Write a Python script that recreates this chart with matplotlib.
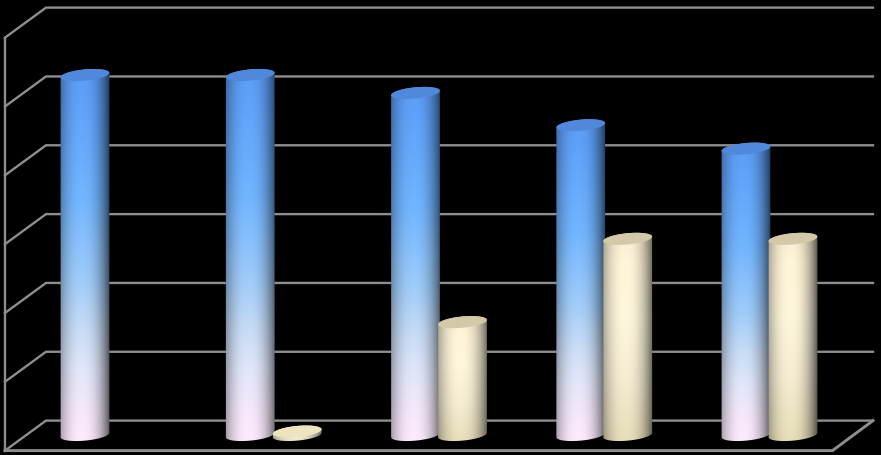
import numpy as np
import matplotlib
matplotlib.use("Agg")
import matplotlib.pyplot as plt
from matplotlib.patches import Polygon
from matplotlib.colors import to_rgb

categories = ["1", "2", "3", "4", "5"]
series_blue = [5.23, 5.23, 4.97, 4.50, 4.16]
series_cream = [0.0, 0.05, 1.64, 2.85, 2.85]
grid_values = [0, 1, 2, 3, 4, 5, 6]

W, H = 881, 456
BASE_PX = 436.0      # pixel row of the value-0 bar base centre
UNIT_PX = 68.83      # pixels per value unit
CAT0_PX = 108.5      # pixel column of first group centre
CAT_PX = 165.25      # pixels per category
BAR_W = 49.0
BAR_OFF = 23.5
FLOOR_BACK = 421.6   # pixel row of back floor line
DX, DY = 41.0, 30.0  # depth shift of the floor/wall
ELL_B = 5.6
ELL_ROT = np.deg2rad(5.5)

fig = plt.figure(figsize=(W / 100, H / 100), dpi=100, facecolor="black")
ax = fig.add_axes([0, 0, 1, 1], facecolor="black")
xlim = ((0 - CAT0_PX) / CAT_PX, (W - CAT0_PX) / CAT_PX)
ylim = ((BASE_PX - H) / UNIT_PX, BASE_PX / UNIT_PX)


def sx(px):
    return px / CAT_PX


def sy(px):
    return px / UNIT_PX


back0 = (BASE_PX - FLOOR_BACK) / UNIT_PX
front0 = back0 - sy(DY)
left_back = xlim[0] + sx(46)
left_front = xlim[0] + sx(5)
right_back = xlim[0] + sx(873)
right_front = xlim[0] + sx(832.5)
gc = "#8e8e8e"
lw = 1.7
for g in grid_values:
    yb = back0 + g
    ax.plot([left_front, left_back, right_back], [yb - sy(DY), yb, yb],
            color=gc, lw=lw, solid_joinstyle="miter", zorder=1)
ax.plot([left_front, left_front], [front0, front0 + grid_values[-1]], color=gc, lw=lw, zorder=1)
ax.plot([left_front, right_front, right_back], [front0, front0, back0],
        color=gc, lw=lw + 0.4, solid_joinstyle="miter", zorder=1)


def ell(xc, yc, n=80, a_start=0.0, a_end=2 * np.pi):
    t = np.linspace(a_start, a_end, n)
    a = BAR_W / 2
    dx = a * np.cos(t) * np.cos(ELL_ROT) - ELL_B * np.sin(t) * np.sin(ELL_ROT)
    dy = a * np.cos(t) * np.sin(ELL_ROT) + ELL_B * np.sin(t) * np.cos(ELL_ROT)
    return xc + sx(dx), yc + sy(dy)


def interp_colors(stops, n):
    pos = [s[0] for s in stops]
    cols = np.array([to_rgb(s[1]) for s in stops])
    tt = np.linspace(0, 1, n)
    return np.stack([np.interp(tt, pos, cols[:, i]) for i in range(3)], axis=1)


BLUE = [(0, "#fdebfd"), (0.08, "#f6e8fb"), (0.2, "#e0e6f9"), (0.3, "#c8dcf6"), (0.43, "#a0ccf9"),
        (0.65, "#72b5ff"), (0.85, "#63a6fb"), (1, "#5b9cf6")]
CREAM = [(0, "#e6ddb8"), (0.3, "#f5ecd2"), (0.6, "#fff7dc"), (0.85, "#fff5d8"), (1, "#f8edd0")]


def shade(n):
    u = np.linspace(-1, 1, n)
    s = 1 - 0.46 * np.abs(u + 0.10) ** 2.3
    s[u > 0] -= 0.08 * u[u > 0] ** 3
    return s


def cylinder(xc, v, stops, top_col, z):
    if v <= 0:
        return
    h = 300
    grad = interp_colors(stops, h)[::-1]
    sh = shade(120)
    img = grad[:, None, :] * sh[None, :, None]
    half = sx(BAR_W / 2)
    im = ax.imshow(img, extent=[xc - half - sx(1), xc + half + sx(1), 0 - sy(ELL_B + 2), v + sy(ELL_B + 2)],
                   aspect="auto", interpolation="bilinear", zorder=z)
    xb, yb = ell(xc, 0.0, a_start=np.pi, a_end=2 * np.pi)  # lower arc of the base, left to right
    xt, yt = ell(xc, v, a_start=0.0, a_end=np.pi)          # upper arc of the top, right to left
    poly = Polygon(np.column_stack([np.r_[xb, xt], np.r_[yb, yt]]),
                   closed=True, transform=ax.transData, fc="none", ec="none")
    ax.add_patch(poly)
    im.set_clip_path(poly)
    x, y = ell(xc, v)
    ax.add_patch(Polygon(np.column_stack([x, y]), closed=True, fc=top_col, ec="none", zorder=z + 0.1))


order_blue = "#5089dc"
order_cream = "#d3c8a8"
for i in range(len(categories)):
    cylinder(i - sx(BAR_OFF), series_blue[i], BLUE, order_blue, 3 + i)
    cylinder(i + sx(BAR_OFF), series_cream[i], CREAM,
             order_cream if series_cream[i] > 0.2 else "#ece3bf", 3.5 + i)

ax.set_xlim(*xlim)
ax.set_ylim(*ylim)
ax.axis("off")
fig.savefig("out.png", dpi=100, facecolor="black")
